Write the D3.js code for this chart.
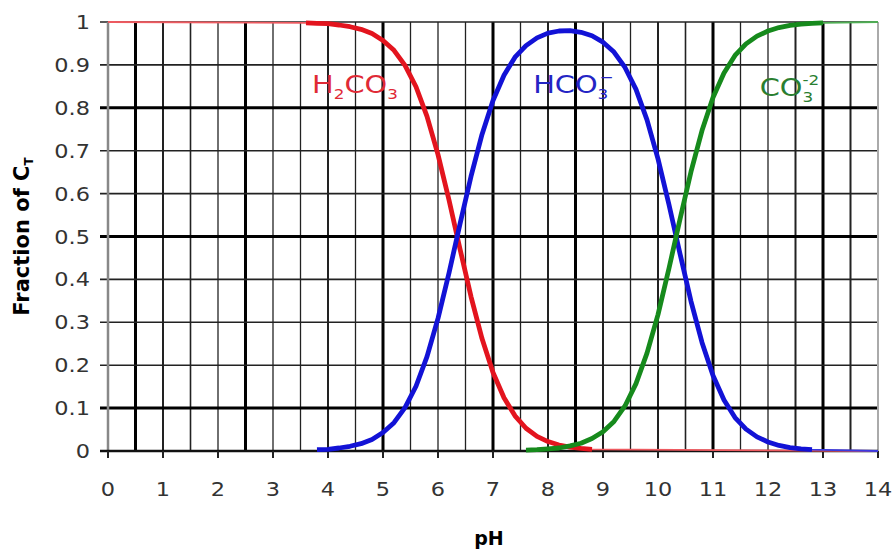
<!DOCTYPE html>
<html>
<head>
<meta charset="utf-8">
<script src="https://cdn.jsdelivr.net/npm/d3@7"></script>
<style>
  body { margin: 0; background: #fff; }
  svg { display: block; }
</style>
</head>
<body>
<div id="app"></div>
<script>
const WIDTH = 893, HEIGHT = 553;

// pH vs fraction of total carbonate
const h2co3 = [
  [0, 1], [3.6, 0.998], [3.8, 0.997], [4.0, 0.996], [4.2, 0.993], [4.4, 0.989],
  [4.6, 0.983], [4.8, 0.973], [5.0, 0.957], [5.2, 0.934], [5.4, 0.899], [5.6, 0.849],
  [5.8, 0.780], [6.0, 0.691], [6.2, 0.585], [6.4, 0.471], [6.6, 0.360], [6.8, 0.262],
  [7.0, 0.183], [7.2, 0.124], [7.4, 0.082], [7.6, 0.053], [7.8, 0.034], [8.0, 0.022],
  [8.2, 0.014], [8.4, 0.009], [8.6, 0.006], [8.8, 0.004], [14, 0]
];
const hco3 = [
  [3.8, 0.003], [4.0, 0.004], [4.2, 0.007], [4.4, 0.011], [4.6, 0.017], [4.8, 0.027],
  [5.0, 0.043], [5.2, 0.066], [5.4, 0.101], [5.6, 0.151], [5.8, 0.220], [6.0, 0.309],
  [6.2, 0.415], [6.4, 0.529], [6.6, 0.640], [6.8, 0.738], [7.0, 0.817], [7.2, 0.876],
  [7.4, 0.918], [7.6, 0.945], [7.8, 0.963], [8.0, 0.974], [8.2, 0.979], [8.4, 0.980],
  [8.6, 0.976], [8.8, 0.968], [9.0, 0.953], [9.2, 0.930], [9.4, 0.894], [9.6, 0.843],
  [9.8, 0.772], [10.0, 0.681], [10.2, 0.574], [10.4, 0.460], [10.6, 0.349], [10.8, 0.253],
  [11.0, 0.176], [11.2, 0.119], [11.4, 0.078], [11.6, 0.051], [11.8, 0.033], [12.0, 0.021],
  [12.2, 0.013], [12.4, 0.008], [12.6, 0.005], [12.8, 0.003], [14, 0]
];
const co3 = [
  [7.6, 0.002], [7.8, 0.003], [8.0, 0.005], [8.2, 0.007], [8.4, 0.012], [8.6, 0.018],
  [8.8, 0.029], [9.0, 0.045], [9.2, 0.069], [9.4, 0.105], [9.6, 0.157], [9.8, 0.228],
  [10.0, 0.318], [10.2, 0.426], [10.4, 0.540], [10.6, 0.651], [10.8, 0.747], [11.0, 0.824],
  [11.2, 0.881], [11.4, 0.922], [11.6, 0.949], [11.8, 0.967], [12.0, 0.979], [12.2, 0.987],
  [12.4, 0.992], [12.6, 0.995], [12.8, 0.997], [13.0, 0.998], [14, 1]
];
// pH span over which each curve is drawn thick
const redSpan = [3.6, 8.8], blueSpan = [3.8, 12.8], greenSpan = [7.6, 13.0];

const xTickLabels = ['0','1','2','3','4','5','6','7','8','9','10','11','12','13','14'];
const yTickLabels = ['0','0.1','0.2','0.3','0.4','0.5','0.6','0.7','0.8','0.9','1'];
// grid positions (pH every 0.5) and their apparent weight in the picture
const vGrid = [0.5,1,1.5,2,2.5,3,3.5,4,4.5,5,5.5,6,6.5,7,7.5,8,8.5,9,9.5,10,10.5,11,11.5,12,12.5,13,13.5];
const vWeight = [3,2,1.6,1.3,3,1.3,1.3,2,1.3,3,1.3,1.3,1.3,3,1.3,2,3,2,1.3,2,1.6,3,1.3,1.3,2,3,2];
const hGrid = [0.1,0.2,0.3,0.4,0.5,0.6,0.7,0.8,0.9,1];
const hWeight = [3,1.6,1.6,1.6,3,1.6,1.6,3,1.6,1.6];

const svg = d3.select('#app').append('svg')
  .attr('width', WIDTH).attr('height', HEIGHT);

const x = d3.scaleLinear().domain([0, 14]).range([108, 878]);
const y = d3.scaleLinear().domain([0, 1]).range([451, 22]);

// grid
svg.append('g').selectAll('line').data(vGrid).enter().append('line')
  .attr('x1', d => x(d)).attr('x2', d => x(d))
  .attr('y1', y(1)).attr('y2', y(0))
  .attr('stroke', (d, i) => vWeight[i] > 2.5 ? '#000' : '#222')
  .attr('stroke-width', (d, i) => vWeight[i]);

svg.append('g').selectAll('line').data(hGrid).enter().append('line')
  .attr('x1', x(0) - 8).attr('x2', x(14))
  .attr('y1', d => y(d)).attr('y2', d => y(d))
  .attr('stroke', (d, i) => hWeight[i] > 2.5 ? '#000' : '#222')
  .attr('stroke-width', (d, i) => hWeight[i]);

// axes frame
svg.append('line')
  .attr('x1', x(0)).attr('x2', x(0)).attr('y1', y(1)).attr('y2', y(0))
  .attr('stroke', '#888').attr('stroke-width', 2.5);
svg.append('line')
  .attr('x1', x(14)).attr('x2', x(14)).attr('y1', y(1)).attr('y2', y(0))
  .attr('stroke', '#aaa').attr('stroke-width', 2);
svg.append('line')
  .attr('x1', x(0) - 8).attr('x2', x(14)).attr('y1', y(0)).attr('y2', y(0))
  .attr('stroke', '#111').attr('stroke-width', 2.5);

// x tick marks
svg.append('g').selectAll('line').data(xTickLabels).enter().append('line')
  .attr('x1', d => x(+d)).attr('x2', d => x(+d))
  .attr('y1', y(0)).attr('y2', y(0) + 7)
  .attr('stroke', '#222').attr('stroke-width', 2);

// tick labels
svg.append('g').selectAll('g').data(xTickLabels).enter().append('g')
  .attr('transform', d => `translate(${x(+d)},496)`)
  .append('text')
    .attr('transform', 'scale(1.18,1)')
    .attr('text-anchor', 'middle')
    .attr('font-family', 'DejaVu Sans, sans-serif')
    .attr('font-size', 19)
    .attr('fill', '#333')
    .text(d => d);

svg.append('g').selectAll('g').data(yTickLabels).enter().append('g')
  .attr('transform', d => `translate(90,${y(+d) + 7})`)
  .append('text')
    .attr('transform', 'scale(1.18,1)')
    .attr('text-anchor', 'end')
    .attr('font-family', 'DejaVu Sans, sans-serif')
    .attr('font-size', 19)
    .attr('fill', '#333')
    .text(d => d);

// axis titles
svg.append('text')
  .attr('x', x(7) - 4).attr('y', 545)
  .attr('text-anchor', 'middle')
  .attr('font-family', 'DejaVu Sans, sans-serif')
  .attr('font-weight', 'bold').attr('font-size', 19)
  .text('pH');

const yTitle = svg.append('text')
  .attr('transform', `translate(29,${y(0.5)}) rotate(-90)`)
  .attr('text-anchor', 'middle')
  .attr('font-family', 'DejaVu Sans, sans-serif')
  .attr('font-weight', 'bold').attr('font-size', 21);
yTitle.append('tspan').text('Fraction of C');
yTitle.append('tspan').attr('font-size', 12).attr('dy', 4).text('T');

// curves
const line = d3.line().x(d => x(d[0])).y(d => y(d[1]));

const series = [
  { data: h2co3, span: redSpan, color: '#e3141e', thin: '#ee5a60' },
  { data: hco3, span: blueSpan, color: '#1212d6', thin: '#3a3ae0' },
  { data: co3, span: greenSpan, color: '#168a1c', thin: '#4fae54' }
];

series.forEach(s => {
  svg.append('path')
    .attr('d', line(s.data))
    .attr('fill', 'none')
    .attr('stroke', s.thin)
    .attr('stroke-width', 1.8);
});
series.forEach(s => {
  svg.append('path')
    .attr('d', line(s.data.filter(d => d[0] >= s.span[0] && d[0] <= s.span[1])))
    .attr('fill', 'none')
    .attr('stroke', s.color)
    .attr('stroke-width', 4.8)
    .attr('stroke-linejoin', 'round');
});

// curve labels: main text, subscript, and superscript stacked over it
function label(pH, frac, color, parts) {
  const g = svg.append('g').attr('transform', `translate(${x(pH)},${y(frac)}) scale(1.2,1)`);
  const t = g.append('text')
    .attr('font-family', 'DejaVu Sans, sans-serif')
    .attr('font-size', 24)
    .attr('fill', color);
  parts.forEach(p => {
    const ts = t.append('tspan').text(p.t);
    if (p.sub) ts.attr('font-size', 14).attr('dy', 6);
    else if (p.sup) ts.attr('font-size', 14).attr('dy', -17).attr('dx', p.dx || 0);
    else ts.attr('dy', p.dy || 0);
  });
}

label(3.71, 0.834, '#e02a36', [
  { t: 'H' }, { t: '2', sub: true }, { t: 'CO', dy: -6 }, { t: '3', sub: true }
]);
label(7.73, 0.834, '#2424c4', [
  { t: 'HCO' }, { t: '3', sub: true }, { t: '\u2212', sup: true, dx: -7 }
]);
label(11.85, 0.827, '#2a7e30', [
  { t: 'CO' }, { t: '3', sub: true }, { t: '-2', sup: true, dx: -9 }
]);
</script>
</body>
</html>
